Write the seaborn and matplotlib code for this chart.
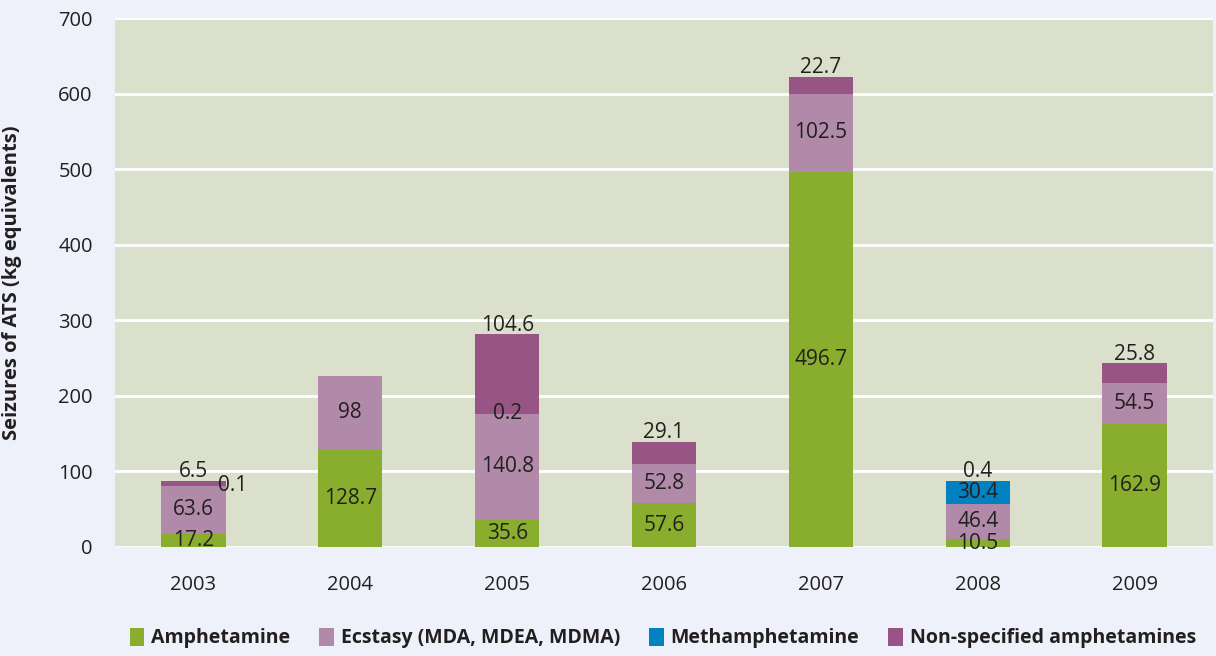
import matplotlib
matplotlib.use("Agg")
import matplotlib.pyplot as plt
from matplotlib.patches import Patch
import numpy as np
import pandas as pd
import seaborn as sns

# Seizures of amphetamine-type stimulants, kg equivalents
years = ["2003", "2004", "2005", "2006", "2007", "2008", "2009"]
amphetamine = [17.2, 128.7, 35.6, 57.6, 496.7, 10.5, 162.9]
ecstasy = [63.6, 98.0, 140.8, 52.8, 102.5, 46.4, 54.5]
methamphetamine = [0.1, None, 0.2, None, None, 30.4, None]
non_specified = [6.5, None, 104.6, 29.1, 22.7, 0.4, 25.8]

series_names = ["Amphetamine", "Ecstasy (MDA, MDEA, MDMA)",
                "Methamphetamine", "Non-specified amphetamines"]
series_values = [amphetamine, ecstasy, methamphetamine, non_specified]
series_colors = ["#89ad2d", "#b08aa8", "#0181bf", "#965584"]

outer_bg = "#eef1f9"
plot_bg = "#dbe0cc"
text_color = "#231f20"

sns.set_theme(style="white")
plt.rcParams["font.family"] = ["Open Sans", "DejaVu Sans"]

vals = np.array([[np.nan if v is None else v for v in s] for s in series_values])
filled = np.nan_to_num(vals)
cum = np.cumsum(filled, axis=0)

fig = plt.figure(figsize=(12.16, 6.56), dpi=100, facecolor=outer_bg)
ax = fig.add_axes([115 / 1216, 109 / 656, 1098 / 1216, 529 / 656])
ax.set_facecolor(plot_bg)

# Stacked bars: draw cumulative totals from the top layer down
bar_w = 0.41
for k in range(len(series_names) - 1, -1, -1):
    df = pd.DataFrame({"year": years, "total": cum[k]})
    sns.barplot(data=df, x="year", y="total", order=years, color=series_colors[k],
                saturation=1, width=bar_w, ax=ax, errorbar=None, zorder=3,
                linewidth=0, edgecolor="none")

ax.set_xlim(-0.5, len(years) - 0.5)
ax.set_ylim(0, 700)
ax.set_yticks(np.arange(0, 701, 100))
ax.yaxis.grid(True, color="white", linewidth=2.0, zorder=0)
ax.set_axisbelow(True)
for s in ax.spines.values():
    s.set_visible(False)
ax.tick_params(axis="both", length=0, labelsize=14.5, colors=text_color)
ax.tick_params(axis="x", pad=20)
ax.tick_params(axis="y", pad=16)
ax.set_xlabel("")
ax.set_ylabel("Seizures of ATS (kg equivalents)", fontsize=14.5, fontweight="bold",
              color=text_color)
ax.yaxis.set_label_coords(-0.085, 0.5)

# Value labels
label_kw = dict(fontsize=15, color=text_color, zorder=5)
for i in range(len(years)):
    for k in range(len(series_names)):
        v = vals[k, i]
        if np.isnan(v):
            continue
        lo = cum[k, i] - filled[k, i]
        txt = f"{v:g}"
        if k == 3:
            # top segment: value written just above the bar
            ax.annotate(txt, (i, cum[k, i]), xytext=(0, -1), textcoords="offset points",
                        ha="center", va="bottom", **label_kw)
        elif k == 2 and v < 1 and not np.isnan(vals[3, i]) and vals[3, i] < 10:
            # tiny segment under a small top label: nudge to the side
            ax.annotate(txt, (i, lo + v / 2), xytext=(18, 0), textcoords="offset points",
                        ha="left", va="center", **label_kw)
        else:
            ax.text(i, lo + v / 2, txt, ha="center", va="center", **label_kw)

handles = [Patch(facecolor=c, edgecolor="none") for c in series_colors]
leg = fig.legend(handles, series_names, loc="center", bbox_to_anchor=(0.545, 0.027),
                 ncol=4, frameon=False, handlelength=0.75, handleheight=1.0,
                 handletextpad=0.35, columnspacing=1.5,
                 prop={"size": 14, "weight": "bold"})
for t in leg.get_texts():
    t.set_color(text_color)

fig.savefig("out.png", dpi=100, facecolor=outer_bg)
